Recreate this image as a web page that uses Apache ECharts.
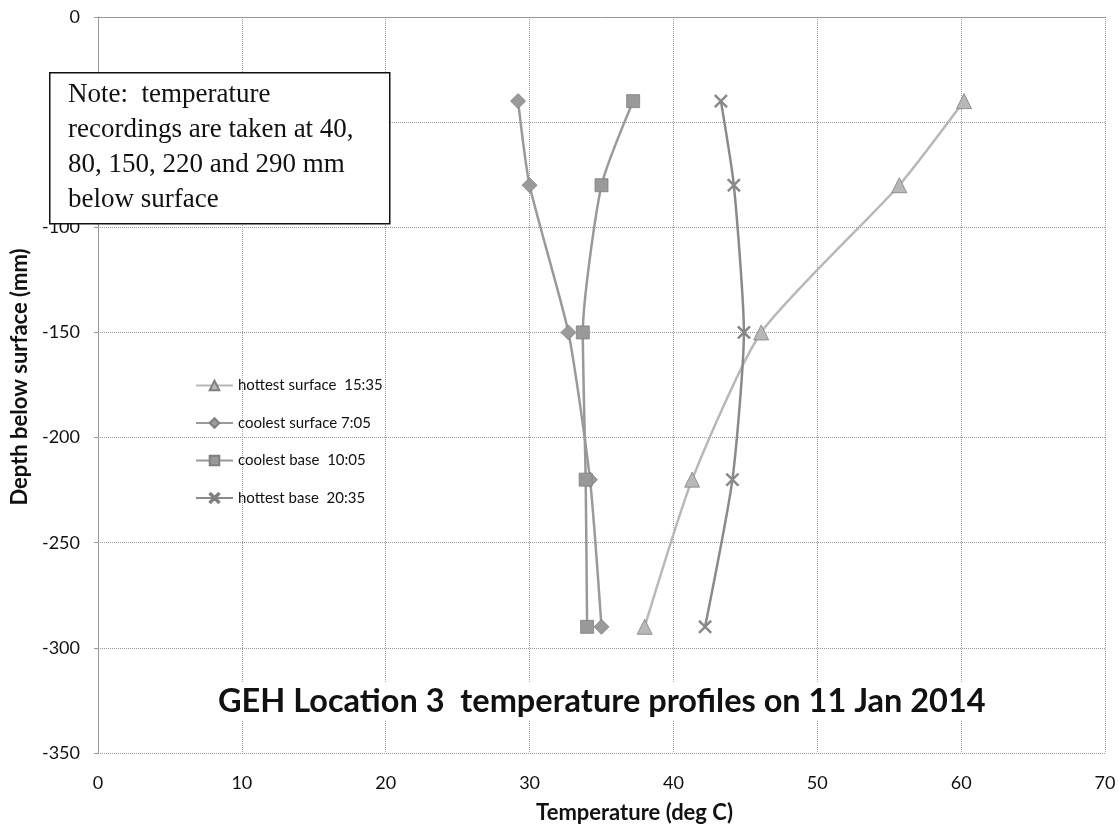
<!DOCTYPE html>
<html>
<head>
<meta charset="utf-8">
<script src="https://cdn.jsdelivr.net/npm/echarts@6/dist/echarts.min.js"></script>
<style>
html,body{margin:0;padding:0;background:#fff;}
#chart{width:1118px;height:826px;}
</style>
</head>
<body>
<div id="chart"></div>
<script>
const depths = [-40, -80, -150, -220, -290];
const hottestSurface = [60.2, 55.7, 46.1, 41.3, 38.0];
const coolestSurface = [29.2, 30.0, 32.7, 34.2, 35.0];
const coolestBase = [37.2, 35.0, 33.7, 33.9, 34.0];
const hottestBase = [43.3, 44.2, 44.9, 44.1, 42.2];
const seriesNames = ['hottest surface  15:35', 'coolest surface 7:05', 'coolest base  10:05', 'hottest base  20:35'];
const titleText = 'GEH Location 3  temperature profiles on 11 Jan 2014';
const noteLines = ['Note:  temperature', 'recordings are taken at 40,', '80, 150, 220 and 290 mm', 'below surface'];

const font = 'Lato, "Open Sans", sans-serif';
const crossPath = 'path://M0,1L1,0L5,4L9,0L10,1L6,5L10,9L9,10L5,6L1,10L0,9L4,5Z';

function pairs(xs) { return xs.map((x, i) => [x, depths[i]]); }

function mk(name, xs, symbol, size, color) {
  return {
    name: name, type: 'line', data: pairs(xs), smooth: 0.2,
    symbol: symbol, symbolSize: size,
    lineStyle: { color: color, width: 2.5 },
    itemStyle: { color: color, borderColor: '#808080', borderWidth: 0.8 },
    emphasis: { disabled: true }
  };
}

const chart = echarts.init(document.getElementById('chart'));
chart.setOption({
  animation: false,
  backgroundColor: '#fff',
  grid: { left: 98, right: 13, top: 17, bottom: 73, containLabel: false, outerBoundsMode: 'none' },
  xAxis: {
    type: 'value', min: 0, max: 70, interval: 10,
    name: 'Temperature (deg C)', nameLocation: 'middle', nameGap: 49,
    nameTextStyle: { fontFamily: font, fontWeight: 'bold', fontSize: 22, color: '#111', padding: [0, 0, 0, 66] },
    axisLine: { show: true, lineStyle: { color: '#999', width: 1 } },
    axisTick: { show: false },
    axisLabel: { fontFamily: font, fontSize: 18, color: '#111', margin: 21 },
    splitLine: { show: true, lineStyle: { color: '#999', type: 'dotted', width: 1 } }
  },
  yAxis: {
    type: 'value', min: -350, max: 0, interval: 50,
    name: 'Depth below surface (mm)', nameLocation: 'middle', nameGap: 64,
    nameTextStyle: { fontFamily: font, fontWeight: 'bold', fontSize: 22, color: '#111', padding: [0, 0, 0, 16] },
    axisLine: { show: true, lineStyle: { color: '#999', width: 1 } },
    axisTick: { show: true, length: 4, lineStyle: { color: '#999' } },
    axisLabel: { fontFamily: font, fontSize: 18, color: '#111', margin: 18 },
    splitLine: { show: true, lineStyle: { color: '#999', type: 'dotted', width: 1 } }
  },
  legend: {
    orient: 'vertical', left: 195, top: 378, itemGap: 22.5, padding: 0,
    itemWidth: 37, itemHeight: 12,
    textStyle: { fontFamily: font, fontSize: 15, color: '#111' },
    data: seriesNames
  },
  series: [
    mk(seriesNames[0], hottestSurface, 'triangle', 15, '#b8b8b8'),
    mk(seriesNames[1], coolestSurface, 'diamond', 15, '#9a9a9a'),
    mk(seriesNames[2], coolestBase, 'rect', 13, '#999999'),
    mk(seriesNames[3], hottestBase, crossPath, 13, '#8a8a8a')
  ],
  graphic: [
    {
      type: 'rect', left: 49, top: 72, z: 100,
      shape: { width: 340, height: 151 },
      style: { fill: '#fff', stroke: '#111', lineWidth: 1.5 }
    },
    {
      type: 'text', left: 68, top: 77, z: 101,
      style: {
        text: noteLines.join('\n'),
        font: '27px "Liberation Serif", "Times New Roman", serif',
        lineHeight: 35, fill: '#111'
      }
    },
    {
      type: 'text', left: 212, top: 683, z: 101,
      style: {
        text: titleText,
        font: 'bold 32.5px ' + font, fill: '#111',
        backgroundColor: '#fff', padding: [2, 6]
      }
    }
  ]
});
</script>
</body>
</html>
